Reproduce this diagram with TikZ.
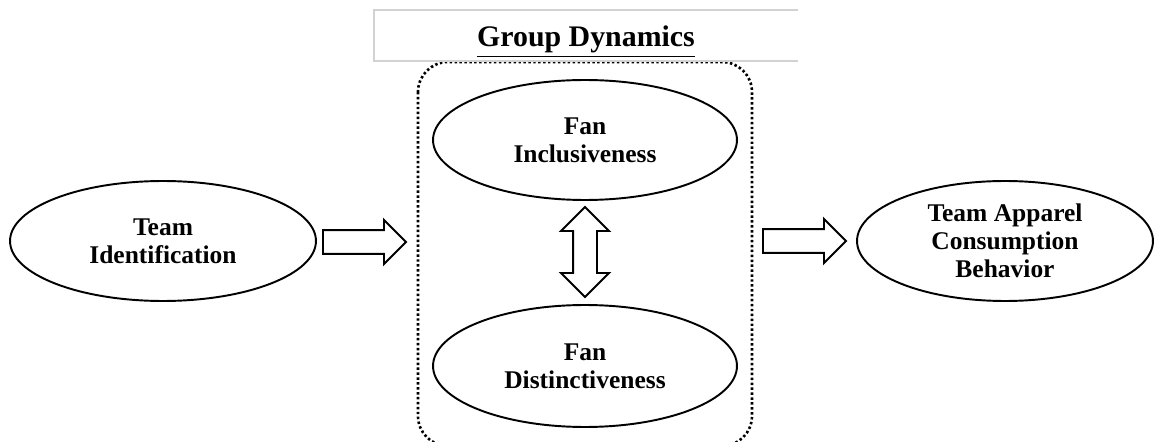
\documentclass[tikz,border=0pt]{standalone}
\usepackage{fontspec}
\setmainfont{Liberation Serif}
\usetikzlibrary{positioning,shapes.geometric,shapes.arrows}

\begin{document}
\begin{tikzpicture}[x=0.02cm,y=-0.02cm,
    construct/.style={ellipse,draw,line width=1.1pt,inner sep=0pt,align=center,
        minimum width=6.08cm,minimum height=2.4cm,font=\fontsize{14.5}{15.8}\selectfont\bfseries},
    flow/.style={single arrow,draw,line width=1.1pt,inner xsep=0pt,inner ysep=0.22cm,
        minimum height=1.66cm,single arrow head extend=0.2cm},
    linkage/.style={double arrow,draw,line width=1.1pt,inner xsep=0pt,inner ysep=0.22cm,
        minimum height=1.8cm,double arrow head extend=0.24cm,rotate=90}]
    \useasboundingbox (0,0) rectangle (1160,442);
    % group dynamics frame
    \begin{scope}
        \clip (0,0) rectangle (1160,442);
        \draw[line width=1.5pt,dash pattern=on 1.4pt off 1.4pt,rounded corners=0.6cm]
            (418,62) rectangle (752,446);
    \end{scope}
    \draw[gray!35,line width=0.6pt] (798,10) -- (374,10) -- (374,61) -- (798,61);
    \node[anchor=base,font=\fontsize{17}{20}\selectfont\bfseries] (title) at (586,47) {\underline{Group Dynamics}};
    % constructs
    \node[construct,minimum width=6.12cm] (ident) at (163,241) {Team\\Identification};
    \node[construct] (incl) at (585,140) {Fan\\Inclusiveness};
    \node[construct,minimum height=2.44cm] (dist) at (585,366) {Fan\\Distinctiveness};
    \node[construct,minimum width=5.92cm] (apparel) at (1005,241) {Team Apparel\\Consumption\\Behavior};
    % block arrows
    \node[flow] (toGroup) at (358.5,242) {};
    \node[flow] (toApparel) at (798.5,241) {};
    \node[linkage] (between) at (585,252) {};
\end{tikzpicture}
\end{document}
